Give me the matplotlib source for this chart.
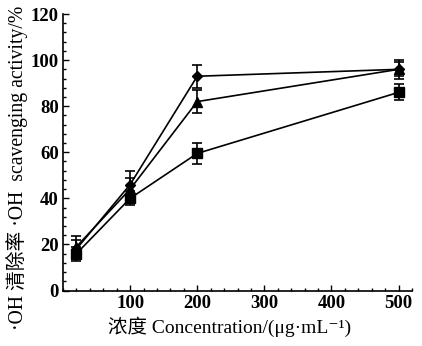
import matplotlib
matplotlib.use("Agg")
import matplotlib.pyplot as plt
from matplotlib.ticker import MultipleLocator

conc = [20, 100, 200, 500]
diamond_vals = [18, 46, 93, 96]
diamond_err = [4, 6, 5, 4]
triangle_vals = [19, 44, 82, 96]
triangle_err = [4.7, 5, 5, 3]
square_vals = [16, 40, 59.5, 86]
square_err = [3, 3, 4.7, 3.5]
xticks = [100, 200, 300, 400, 500]
yticks = [0, 20, 40, 60, 80, 100, 120]

serif = ['Liberation Serif', 'Noto Sans CJK SC', 'DejaVu Serif']

fig = plt.figure(figsize=(4.22, 3.46), dpi=100)
ax = fig.add_axes([0.1493, 0.1604, 0.827, 0.799])

common = dict(color='black', lw=1.2, elinewidth=1.2, capsize=3.5, capthick=1.2, mfc='black', mec='black')
ax.errorbar(conc, square_vals, yerr=square_err, marker='s', ms=6.5, **common)
ax.errorbar(conc, triangle_vals, yerr=triangle_err, marker='^', ms=7.5, **common)
ax.errorbar(conc, diamond_vals, yerr=diamond_err, marker='D', ms=5.5, **common)

ax.set_xlim(0, 520)
ax.set_ylim(0, 120)
ax.set_xticks(xticks)
ax.set_yticks(yticks)
ax.xaxis.set_minor_locator(MultipleLocator(20))
ax.yaxis.set_minor_locator(MultipleLocator(4))
ax.tick_params(which='both', direction='in', width=1)
ax.tick_params(which='major', length=4, pad=3)
ax.tick_params(which='minor', length=2.5)
for lab in ax.get_xticklabels() + ax.get_yticklabels():
    lab.set_family(serif)
    lab.set_fontsize(13.5)
    lab.set_fontweight('bold')

for s in ['top', 'right']:
    ax.spines[s].set_visible(False)
for s in ['left', 'bottom']:
    ax.spines[s].set_linewidth(1.2)

fig.text(230 / 422, 1 - 327 / 346, '浓度 Concentration/(μg·mL⁻¹)', family=serif,
         fontsize=14, ha='center', va='center')
fig.text(17 / 422, 1 - 168 / 346, '·OH 清除率 ·OH  scavenging activity/%', family=serif,
         fontsize=14.2, ha='center', va='center', rotation=90)

fig.savefig('out.png', dpi=100)
